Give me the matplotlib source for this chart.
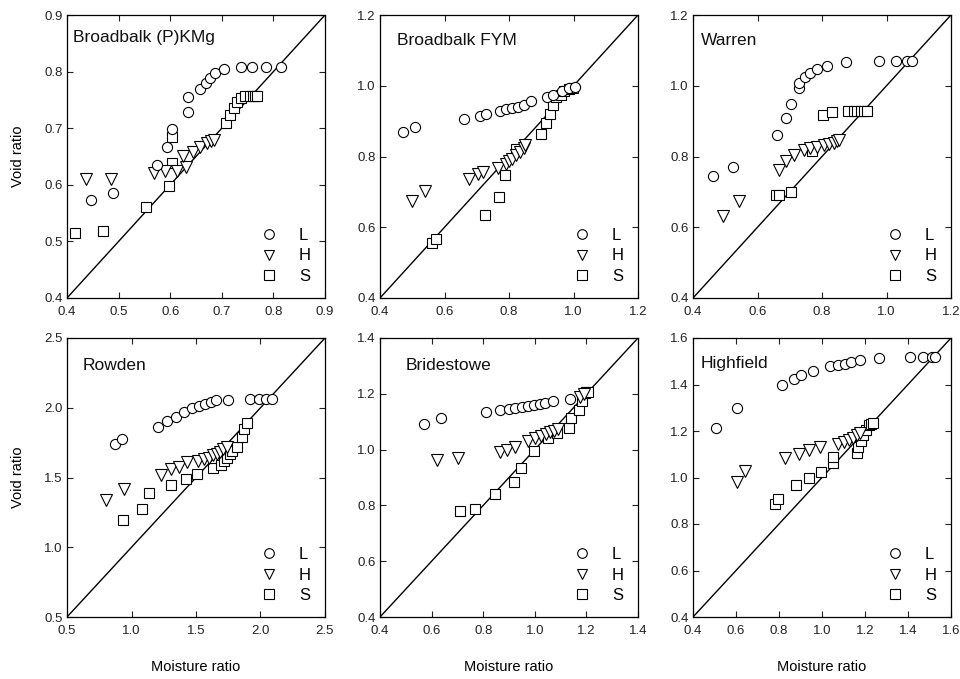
import matplotlib
matplotlib.use("Agg")
import matplotlib.pyplot as plt
from matplotlib.lines import Line2D
import numpy as np

plt.rcParams['font.family'] = ['Liberation Sans', 'DejaVu Sans']

# site names, axis limits and tick steps
sites = ['Broadbalk (P)KMg', 'Broadbalk FYM', 'Warren', 'Rowden', 'Bridestowe', 'Highfield']
lims = [(0.4, 0.9), (0.4, 1.2), (0.4, 1.2), (0.5, 2.5), (0.4, 1.4), (0.4, 1.6)]
steps = [0.1, 0.2, 0.2, 0.5, 0.2, 0.2]

# moisture ratio (x) / void ratio (y) for each shrinkage zone: L, H, S
L_x = [
    [0.446, 0.489, 0.574, 0.594, 0.604, 0.634, 0.634, 0.658, 0.669, 0.677, 0.686, 0.705, 0.737, 0.758, 0.785, 0.815],
    [0.471, 0.510, 0.659, 0.709, 0.730, 0.773, 0.792, 0.810, 0.828, 0.846, 0.869, 0.919, 0.935, 0.965, 0.985, 1.004],
    [0.463, 0.524, 0.661, 0.689, 0.703, 0.728, 0.728, 0.746, 0.764, 0.786, 0.817, 0.874, 0.977, 1.029, 1.063, 1.079],
    [0.875, 0.926, 1.203, 1.273, 1.345, 1.410, 1.472, 1.526, 1.570, 1.614, 1.653, 1.750, 1.919, 1.991, 2.043, 2.087],
    [0.569, 0.638, 0.812, 0.866, 0.899, 0.925, 0.950, 0.975, 0.998, 1.019, 1.040, 1.071, 1.138],
    [0.507, 0.604, 0.815, 0.870, 0.904, 0.959, 1.036, 1.075, 1.105, 1.133, 1.177, 1.265, 1.410, 1.472, 1.511, 1.527],
]
L_y = [
    [0.574, 0.585, 0.635, 0.666, 0.698, 0.729, 0.755, 0.769, 0.779, 0.788, 0.798, 0.804, 0.808, 0.808, 0.808, 0.808],
    [0.869, 0.883, 0.906, 0.915, 0.921, 0.930, 0.933, 0.938, 0.941, 0.946, 0.956, 0.969, 0.973, 0.985, 0.993, 0.997],
    [0.745, 0.769, 0.861, 0.910, 0.948, 0.993, 1.009, 1.026, 1.037, 1.047, 1.057, 1.066, 1.070, 1.070, 1.070, 1.070],
    [1.742, 1.776, 1.862, 1.905, 1.936, 1.972, 1.996, 2.013, 2.027, 2.043, 2.056, 2.056, 2.060, 2.060, 2.060, 2.060],
    [1.092, 1.112, 1.136, 1.141, 1.146, 1.150, 1.154, 1.157, 1.160, 1.162, 1.166, 1.174, 1.180],
    [1.212, 1.298, 1.398, 1.424, 1.441, 1.459, 1.480, 1.486, 1.490, 1.495, 1.505, 1.512, 1.520, 1.520, 1.520, 1.520],
]
H_x = [
    [0.436, 0.485, 0.569, 0.590, 0.614, 0.631, 0.625, 0.645, 0.658, 0.671, 0.680, 0.685],
    [0.498, 0.540, 0.676, 0.705, 0.719, 0.766, 0.790, 0.800, 0.810, 0.822, 0.834, 0.845, 0.851],
    [0.494, 0.544, 0.666, 0.689, 0.712, 0.743, 0.762, 0.784, 0.806, 0.822, 0.837, 0.847, 0.854],
    [0.800, 0.940, 1.226, 1.306, 1.371, 1.428, 1.513, 1.563, 1.597, 1.630, 1.661, 1.687, 1.713, 1.738],
    [0.622, 0.702, 0.864, 0.893, 0.925, 0.974, 1.002, 1.025, 1.045, 1.060, 1.075, 1.090, 1.175, 1.190],
    [0.604, 0.643, 0.826, 0.892, 0.940, 0.990, 1.075, 1.100, 1.125, 1.145, 1.162, 1.177],
]
H_y = [
    [0.610, 0.611, 0.621, 0.625, 0.624, 0.632, 0.650, 0.658, 0.667, 0.673, 0.678, 0.680],
    [0.675, 0.702, 0.737, 0.751, 0.756, 0.768, 0.779, 0.786, 0.794, 0.803, 0.813, 0.825, 0.833],
    [0.632, 0.675, 0.762, 0.788, 0.804, 0.818, 0.823, 0.827, 0.832, 0.834, 0.838, 0.843, 0.847],
    [1.339, 1.418, 1.518, 1.561, 1.578, 1.609, 1.618, 1.632, 1.642, 1.660, 1.672, 1.684, 1.702, 1.721],
    [0.963, 0.969, 0.993, 0.999, 1.010, 1.031, 1.040, 1.048, 1.056, 1.062, 1.068, 1.074, 1.190, 1.200],
    [0.982, 1.029, 1.085, 1.100, 1.118, 1.133, 1.143, 1.152, 1.162, 1.172, 1.181, 1.190],
]
S_x = [
    [0.416, 0.470, 0.553, 0.598, 0.603, 0.603, 0.708, 0.716, 0.724, 0.730, 0.737, 0.745, 0.755, 0.760, 0.764, 0.768],
    [0.560, 0.575, 0.725, 0.769, 0.789, 0.823, 0.900, 0.916, 0.928, 0.936, 0.947, 0.960, 0.972, 0.985, 0.998],
    [0.658, 0.666, 0.705, 0.770, 0.802, 0.832, 0.882, 0.900, 0.910, 0.920, 0.930, 0.940],
    [0.937, 1.084, 1.138, 1.304, 1.422, 1.505, 1.634, 1.694, 1.720, 1.740, 1.762, 1.780, 1.815, 1.854, 1.875, 1.893],
    [0.711, 0.769, 0.847, 0.919, 0.948, 0.997, 1.051, 1.085, 1.131, 1.142, 1.170, 1.183, 1.193, 1.200, 1.205],
    [0.780, 0.795, 0.878, 0.940, 0.994, 1.052, 1.052, 1.161, 1.169, 1.180, 1.192, 1.205, 1.220, 1.230, 1.239],
]
S_y = [
    [0.514, 0.519, 0.561, 0.598, 0.639, 0.684, 0.709, 0.723, 0.736, 0.747, 0.753, 0.757, 0.757, 0.757, 0.757, 0.757],
    [0.556, 0.566, 0.635, 0.686, 0.748, 0.820, 0.864, 0.896, 0.920, 0.946, 0.967, 0.975, 0.985, 0.990, 0.993],
    [0.691, 0.692, 0.700, 0.816, 0.917, 0.927, 0.929, 0.929, 0.929, 0.929, 0.929, 0.929],
    [1.195, 1.274, 1.391, 1.446, 1.491, 1.523, 1.570, 1.590, 1.615, 1.640, 1.665, 1.690, 1.721, 1.788, 1.848, 1.888],
    [0.781, 0.787, 0.841, 0.883, 0.933, 0.996, 1.040, 1.060, 1.078, 1.112, 1.142, 1.174, 1.202, 1.205, 1.205],
    [0.886, 0.906, 0.968, 0.996, 1.025, 1.061, 1.089, 1.107, 1.133, 1.158, 1.183, 1.205, 1.226, 1.232, 1.236],
]

title_x = [0.025, 0.065, 0.03, 0.062, 0.1, 0.03]
title_y = [0.922, 0.91, 0.91, 0.903, 0.903, 0.908]

fig = plt.figure(figsize=(9.6, 6.79), dpi=100)
lefts = [67, 380, 693]
boxes = []
for row, (top, h) in enumerate([(15, 283), (338, 279)]):
    for col in range(3):
        boxes.append([lefts[col] / 960, 1 - (top + h) / 679, 258 / 960, h / 679])

mk = dict(linestyle='none', markerfacecolor='white', markeredgecolor='black',
          markeredgewidth=0.8)
sizes = {'o': 7.3, 'v': 8.0, 's': 7.3}

for i, ax_box in enumerate(boxes):
    ax = fig.add_axes(ax_box)
    lo, hi = lims[i]
    ax.plot([lo, hi], [lo, hi], color='black', lw=1.0, zorder=1)
    ax.plot(S_x[i], S_y[i], marker='s', markersize=sizes['s'], zorder=2, **mk)
    ax.plot(H_x[i], H_y[i], marker='v', markersize=sizes['v'], zorder=3, **mk)
    ax.plot(L_x[i], L_y[i], marker='o', markersize=sizes['o'], zorder=4, **mk)
    ax.set_xlim(lo, hi)
    ax.set_ylim(lo, hi)
    ticks = np.round(np.arange(lo, hi + steps[i] / 2, steps[i]), 2)
    ax.set_xticks(ticks)
    ax.set_yticks(ticks)
    ax.set_xticklabels([f'{t:.1f}' for t in ticks])
    ax.set_yticklabels([f'{t:.1f}' for t in ticks])
    ax.tick_params(direction='in', length=4.5, width=0.8, top=True, right=True,
                   labelsize=9.5, colors='#222222')
    ax.tick_params(axis='x', pad=6)
    ax.tick_params(axis='y', pad=3)
    for s in ax.spines.values():
        s.set_linewidth(0.9)
    ax.text(title_x[i], title_y[i], sites[i], transform=ax.transAxes,
            fontsize=12.5, va='center', ha='left', color='#111111')

    handles = [Line2D([], [], marker=m, markersize=sizes[m] * 0.95, **mk)
               for m in ['o', 'v', 's']]
    ax.legend(handles, ['L', 'H', 'S'], loc='lower right', frameon=False,
              handlelength=1.0, handletextpad=1.3, labelspacing=0.32,
              fontsize=12, borderaxespad=0.45)

    if i % 3 == 0:
        ax.set_ylabel('Void ratio', fontsize=10.5, labelpad=14)
    if i >= 3:
        ax.set_xlabel('Moisture ratio', fontsize=10.5, labelpad=16)

fig.savefig('out.png', dpi=100)
